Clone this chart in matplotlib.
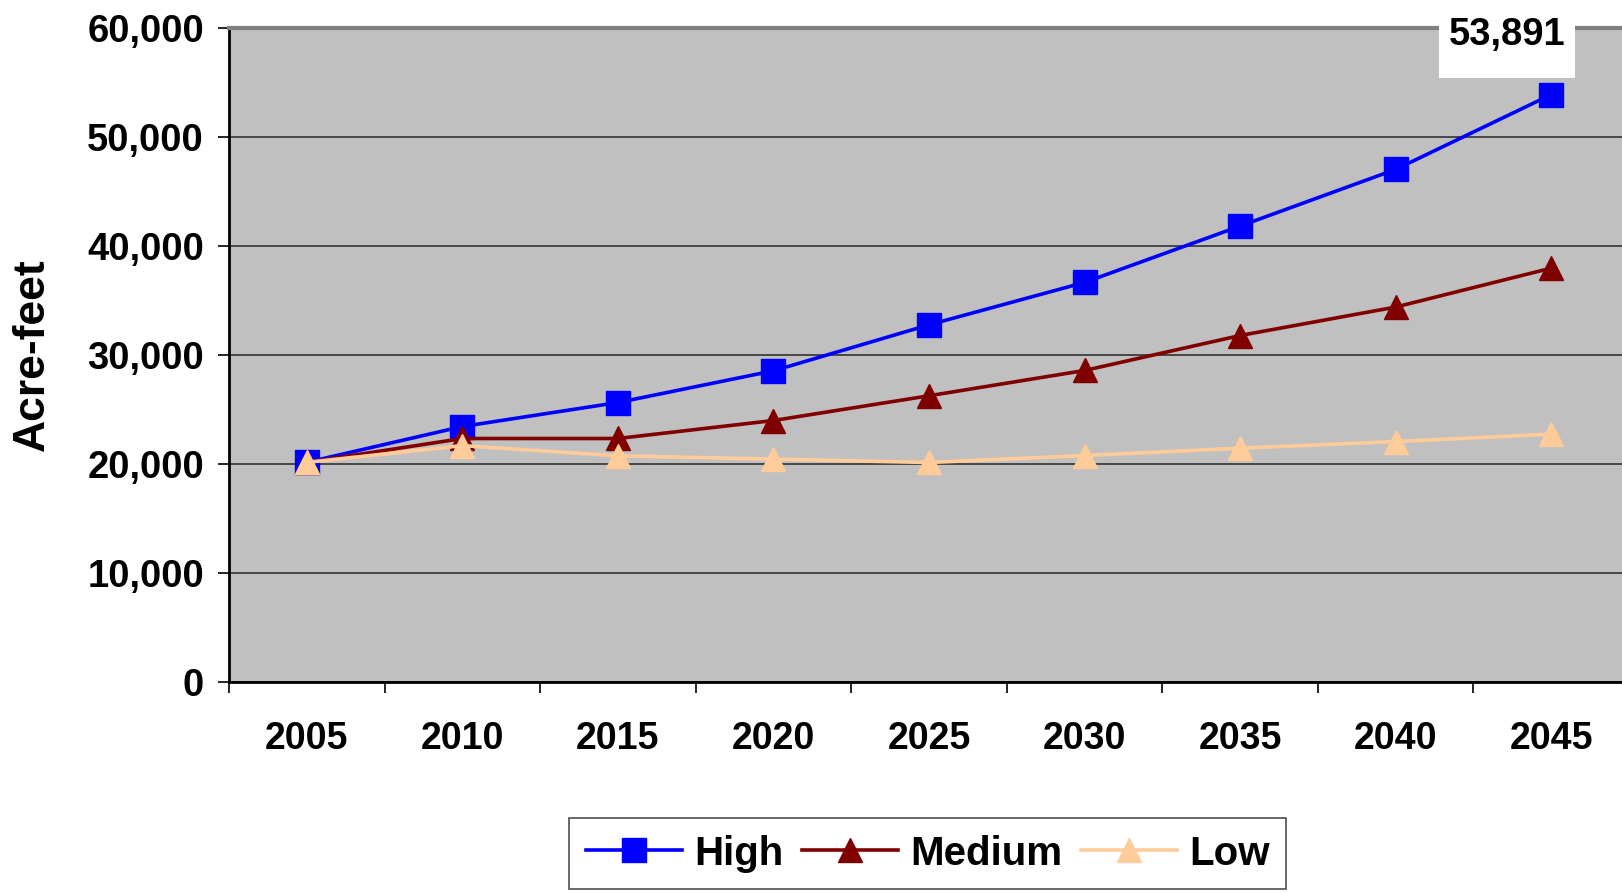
import matplotlib.pyplot as plt
from matplotlib.patches import Rectangle
from matplotlib.ticker import FuncFormatter

plt.rcParams['font.family'] = ['Liberation Sans', 'DejaVu Sans']
plt.rcParams['font.weight'] = 'bold'

years = ['2005', '2010', '2015', '2020', '2025', '2030', '2035', '2040', '2045']
high = [20150, 23440, 25640, 28550, 32770, 36660, 41830, 47030, 53891]
medium = [20150, 22340, 22340, 23990, 26260, 28580, 31790, 34400, 37970]
low = [20150, 21690, 20750, 20450, 20140, 20780, 21450, 22060, 22740]
series_names = ['High', 'Medium', 'Low']

fig = plt.figure(figsize=(16.22, 8.93), dpi=100)
ax = fig.add_axes([0.1412, 0.2363, 0.8631, 0.7323])
ax.set_facecolor('#C0C0C0')

x = list(range(len(years)))
ax.plot(x, high, color='#0000FF', lw=2.6, marker='s', ms=17, mec='#0000FF', label=series_names[0])
ax.plot(x, medium, color='#800000', lw=2.6, marker='^', ms=17, mec='#800000', label=series_names[1])
ax.plot(x, low, color='#FFCC99', lw=2.6, marker='^', ms=17, mec='#FFCC99', label=series_names[2])

ax.set_xlim(-0.5, len(years) - 0.5)
ax.set_ylim(0, 60000)
ax.set_yticks(range(0, 60001, 10000))
ax.yaxis.set_major_formatter(FuncFormatter(lambda v, p: f'{int(v):,}'))
ax.grid(axis='y', color='#333333', lw=1.2)
ax.set_axisbelow(True)

ax.set_xticks(x)
ax.set_xticklabels(years)
ax.set_xticks([i - 0.5 for i in range(len(years) + 1)], minor=True)
ax.tick_params(axis='x', which='major', length=0, pad=28, labelsize=27)
ax.tick_params(axis='x', which='minor', length=8, width=1.2, color='black')
ax.tick_params(axis='y', length=8, width=1.2, pad=10, labelsize=27.5)

ax.spines['right'].set_visible(False)
ax.spines['top'].set_color('#808080')
ax.spines['top'].set_linewidth(3)
ax.spines['left'].set_linewidth(2)
ax.spines['bottom'].set_linewidth(2)

ax.set_ylabel('Acre-feet', fontsize=32, fontweight='bold')
ax.yaxis.set_label_coords(-0.126, 0.5)

# data label for the last high value
last = len(years) - 1
ax.add_patch(Rectangle((last - 0.72, high[-1] + 1550), 0.87, 9000,
                       facecolor='white', edgecolor='none', clip_on=False, zorder=5))
ax.annotate(f'{high[-1]:,}', xy=(last, high[-1]), xytext=(-32, 43), textcoords='offset points',
            ha='center', va='center', fontsize=27.5, fontweight='bold', zorder=6,
            annotation_clip=False)

leg = fig.legend(loc='upper center', bbox_to_anchor=(0.572, 0.106), ncol=3,
                 fontsize=29, frameon=True, fancybox=False, edgecolor='#222222',
                 handlelength=2.4, handletextpad=0.3, columnspacing=0.45,
                 borderpad=0.4)
leg.get_frame().set_linewidth(1.2)

fig.savefig('out.png', dpi=100)
